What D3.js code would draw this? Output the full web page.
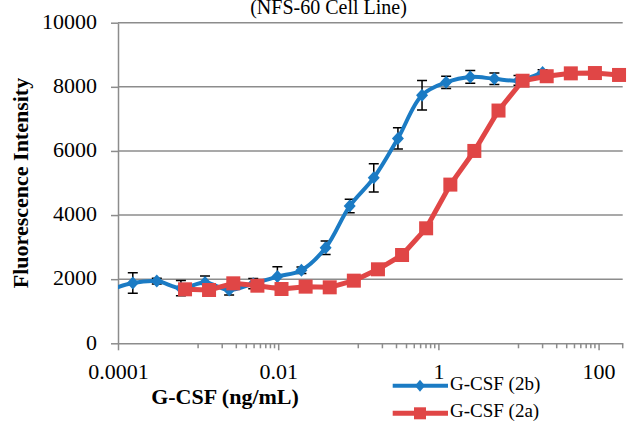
<!DOCTYPE html>
<html>
<head>
<meta charset="utf-8">
<script src="https://cdn.jsdelivr.net/npm/d3@7"></script>
<style>
  body { margin: 0; background: #fff; }
  svg { display: block; }
</style>
</head>
<body>
<svg class="dose-chart"></svg>
<script>
// G-CSF (2b): 2-fold dilutions from 20 ng/mL, mean and error
// (the lowest dose lies left of the axis and only its line segment shows)
var doses2b = [0.0000763, 0.000153, 0.000305, 0.00061, 0.00122, 0.00244, 0.00488, 0.00977, 0.0195, 0.0391, 0.0781, 0.156, 0.3125, 0.625, 1.25, 2.5, 5, 10, 20];
var signal2b = [1650, 1880, 1940, 1720, 1900, 1660, 1860, 2080, 2280, 2980, 4280, 5160, 6390, 7740, 8140, 8310, 8250, 8200, 8450];
var error2b = [200, 320, 90, 240, 200, 150, 160, 310, 100, 210, 210, 440, 330, 460, 190, 200, 180, 150, 80];

// G-CSF (2a)
var doses2a = [0.000687, 0.00137, 0.00275, 0.0055, 0.011, 0.022, 0.044, 0.088, 0.176, 0.352, 0.703, 1.41, 2.81, 5.63, 11.25, 22.5, 45, 90, 180];
var signal2a = [1684, 1663, 1871, 1797, 1694, 1767, 1746, 1954, 2308, 2754, 3587, 4950, 6000, 7260, 8190, 8330, 8420, 8430, 8370];

var yTicks = [0, 2000, 4000, 6000, 8000, 10000];
var xLabels = [0.0001, 0.01, 1, 100];
var seriesNames = ['G-CSF (2b)', 'G-CSF (2a)'];

var blue = '#1b7bc4', red = '#e04646', grid = '#8c8c8c';
var font = '"Liberation Serif", "Times New Roman", serif';

var w = 627, h = 423;
var plot = {left: 118, right: 622.7, top: 22.7, bottom: 343.3};

var svg = d3.select('.dose-chart')
	.attr('width', w)
	.attr('height', h);

var x = d3.scaleLog().domain([0.0001, 200]).range([plot.left, plot.right]);
var y = d3.scaleLinear().domain([0, 10000]).range([plot.bottom, plot.top]);

svg.append('clipPath').attr('id', 'plot-clip')
  .append('rect')
	.attr('x', plot.left).attr('y', 0)
	.attr('width', plot.right - plot.left + 10)
	.attr('height', plot.bottom);

// title, cut by the top edge like the original
svg.append('text')
	.attr('x', 328.5)
	.attr('y', 13.5)
	.attr('text-anchor', 'middle')
	.style('font-family', font)
	.style('font-size', '20px')
	.text('(NFS-60 Cell Line)');

// gridlines
svg.append('g').selectAll('line')
	.data(yTicks.filter(function(d) { return d > 0 }))
  .enter().append('line')
	.attr('x1', plot.left).attr('x2', plot.right)
	.attr('y1', function(d) { return y(d) })
	.attr('y2', function(d) { return y(d) })
	.attr('stroke', grid)
	.attr('stroke-width', 1.5);

// x axis
var xAxis = d3.axisBottom(x)
	.tickValues(xLabels)
	.tickSize(7)
	.tickSizeOuter(0)
	.tickFormat(function(d) { return String(d) });

var gx = svg.append('g')
	.attr('transform', 'translate(0,' + y(0) + ')')
	.call(xAxis);
gx.select('.domain').attr('stroke', grid).attr('stroke-width', 1.5);
gx.selectAll('.tick line').attr('stroke', grid).attr('stroke-width', 1.5);
gx.selectAll('.tick text')
	.attr('y', 36).attr('dy', 0)
	.attr('fill', '#000')
	.style('font-family', font)
	.style('font-size', '22px');

// minor ticks: 10m, 20m .. 90m after each labelled value, plus the axis end
var minor = [];
xLabels.forEach(function(m) {
	for (var j = 1; j <= 9; j++) {
		var v = +(m * 10 * j).toPrecision(6);
		if (v < x.domain()[1]) minor.push(v);
	}
});
minor.push(x.domain()[1]);

gx.append('g').selectAll('line')
	.data(minor)
  .enter().append('line')
	.attr('x1', function(d) { return x(d) })
	.attr('x2', function(d) { return x(d) })
	.attr('y1', 0).attr('y2', 5)
	.attr('stroke', grid)
	.attr('stroke-width', 1.5);

// y axis
var yAxis = d3.axisLeft(y)
	.tickValues(yTicks)
	.tickSize(7)
	.tickSizeOuter(0)
	.tickPadding(14)
	.tickFormat(function(d) { return String(d) });

var gy = svg.append('g')
	.attr('transform', 'translate(' + plot.left + ',0)')
	.call(yAxis);
gy.select('.domain').attr('stroke', grid).attr('stroke-width', 1.5);
gy.selectAll('.tick line').attr('stroke', grid).attr('stroke-width', 1.5);
gy.selectAll('.tick text')
	.attr('dy', '0.26em')
	.attr('fill', '#000')
	.style('font-family', font)
	.style('font-size', '22px');

// axis titles
svg.append('text')
	.attr('transform', 'translate(28,' + ((plot.top + plot.bottom) / 2) + ') rotate(-90)')
	.attr('text-anchor', 'middle')
	.style('font-family', font)
	.style('font-size', '22px')
	.style('font-weight', 'bold')
	.text('Fluorescence Intensity');

svg.append('text')
	.attr('x', 225)
	.attr('y', 404)
	.attr('text-anchor', 'middle')
	.style('font-family', font)
	.style('font-size', '22px')
	.style('font-weight', 'bold')
	.text('G-CSF (ng/mL)');

var data2b = doses2b.map(function(d, i) { return {dose: d, value: signal2b[i], err: error2b[i]} });
var data2a = doses2a.map(function(d, i) { return {dose: d, value: signal2a[i]} });
var shown2b = data2b.filter(function(d) { return d.dose >= x.domain()[0] });

function diamond(cx, cy, rx, ry) {
	return 'M' + cx + ',' + (cy - ry) + 'L' + (cx + rx) + ',' + cy +
		'L' + cx + ',' + (cy + ry) + 'L' + (cx - rx) + ',' + cy + 'Z';
}

// error bars for 2b
var eb = svg.append('g').attr('stroke', '#000').attr('stroke-width', 1.5);
eb.selectAll('path')
	.data(shown2b)
  .enter().append('path')
	.attr('fill', 'none')
	.attr('d', function(d) {
		var cx = x(d.dose), t = y(d.value + d.err), b = y(d.value - d.err);
		return 'M' + (cx - 5) + ',' + t + 'H' + (cx + 5) +
			'M' + cx + ',' + t + 'V' + b +
			'M' + (cx - 5) + ',' + b + 'H' + (cx + 5);
	});

// 2b line and markers
var line2b = d3.line()
	.x(function(d) { return x(d.dose) })
	.y(function(d) { return y(d.value) })
	.curve(d3.curveCatmullRom.alpha(0.5));

svg.append('path')
	.datum(data2b)
	.attr('d', line2b)
	.attr('clip-path', 'url(#plot-clip)')
	.attr('fill', 'none')
	.attr('stroke', blue)
	.attr('stroke-width', 4)
	.attr('stroke-linejoin', 'round');

svg.append('g').selectAll('path')
	.data(shown2b)
  .enter().append('path')
	.attr('d', function(d) { return diamond(x(d.dose), y(d.value), 6, 6.5) })
	.attr('fill', blue);

// 2a line and markers
var line2a = d3.line()
	.x(function(d) { return x(d.dose) })
	.y(function(d) { return y(d.value) });

svg.append('path')
	.datum(data2a)
	.attr('d', line2a)
	.attr('fill', 'none')
	.attr('stroke', red)
	.attr('stroke-width', 5)
	.attr('stroke-linejoin', 'round');

svg.append('g').selectAll('rect')
	.data(data2a)
  .enter().append('rect')
	.attr('x', function(d) { return x(d.dose) - 7 })
	.attr('y', function(d) { return y(d.value) - 7 })
	.attr('width', 14)
	.attr('height', 14)
	.attr('fill', red);

// legend
var legend = svg.append('g');
var legendY = [385.7, 413.3];
[blue, red].forEach(function(c, i) {
	var ly = legendY[i];
	legend.append('line')
		.attr('x1', 392.7).attr('x2', 448)
		.attr('y1', ly).attr('y2', ly)
		.attr('stroke', c)
		.attr('stroke-width', i == 0 ? 4 : 5);
	if (i == 0) {
		legend.append('path').attr('d', diamond(420, ly, 5, 6)).attr('fill', c);
	} else {
		legend.append('rect')
			.attr('x', 414).attr('y', ly - 6)
			.attr('width', 12).attr('height', 12)
			.attr('fill', c);
	}
	legend.append('text')
		.attr('x', 450)
		.attr('y', ly + 4)
		.style('font-family', font)
		.style('font-size', '19px')
		.text(seriesNames[i]);
});
</script>
</body>
</html>
